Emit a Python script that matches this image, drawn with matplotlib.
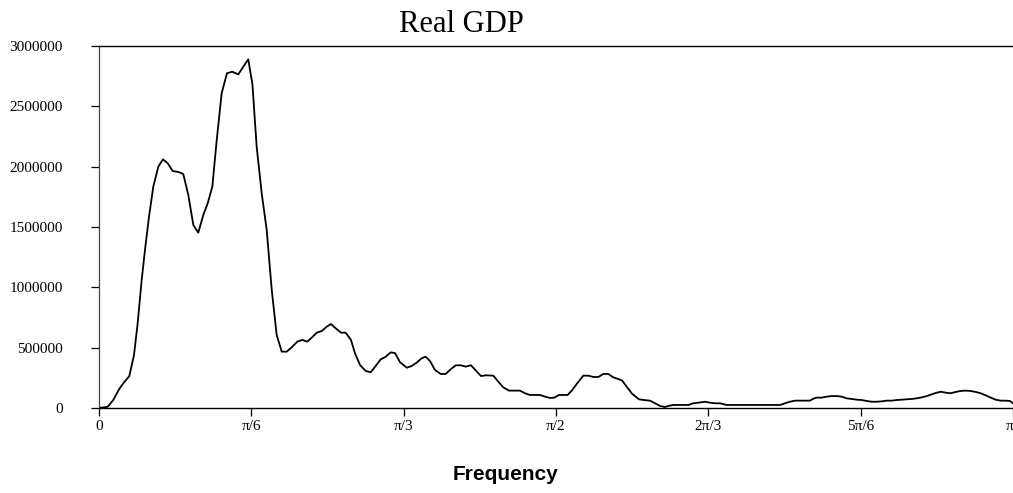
import numpy as np
import matplotlib
matplotlib.use("Agg")
import matplotlib.pyplot as plt

# frequency in units of pi, spectrum value
freq_pi = [0.0, 0.0095, 0.0156, 0.0219, 0.0266, 0.0332, 0.0383, 0.0423, 0.0467, 0.0503,
           0.0547, 0.0594, 0.0649, 0.0700, 0.0752, 0.0806, 0.0868, 0.0922, 0.0977, 0.1032,
           0.1086, 0.1141, 0.1189, 0.1240, 0.1288, 0.1342, 0.1400, 0.1458, 0.1524, 0.1579,
           0.1633, 0.1679, 0.1725, 0.1780, 0.1835, 0.1890, 0.1944, 0.1999, 0.2054, 0.2108,
           0.2170, 0.2224, 0.2279, 0.2327, 0.2382, 0.2437, 0.2491, 0.2538, 0.2590, 0.2648,
           0.2699, 0.2757, 0.2801, 0.2856, 0.2918, 0.2973, 0.3027, 0.3082, 0.3137, 0.3191,
           0.3239, 0.3293, 0.3367, 0.3421, 0.3476, 0.3531, 0.3574, 0.3621, 0.3676, 0.3739,
           0.3793, 0.3848, 0.3903, 0.3957, 0.4012, 0.4070, 0.4125, 0.4179, 0.4234, 0.4314,
           0.4369, 0.4423, 0.4486, 0.4544, 0.4606, 0.4661, 0.4716, 0.4770, 0.4825, 0.4880,
           0.4934, 0.4981, 0.5033, 0.5080, 0.5128, 0.5178, 0.5237, 0.5299, 0.5353, 0.5408,
           0.5463, 0.5518, 0.5572, 0.5627, 0.5682, 0.5725, 0.5773, 0.5835, 0.5908, 0.5966,
           0.6028, 0.6083, 0.6138, 0.6193, 0.6229, 0.6283, 0.6338, 0.6393, 0.6448, 0.6502,
           0.6557, 0.6630, 0.6685, 0.6740, 0.6794, 0.6868, 0.6958, 0.7068, 0.7177, 0.7287,
           0.7396, 0.7451, 0.7505, 0.7560, 0.7615, 0.7670, 0.7724, 0.7779, 0.7815, 0.7852,
           0.7907, 0.7962, 0.8016, 0.8071, 0.8126, 0.8180, 0.8235, 0.8290, 0.8345, 0.8399,
           0.8454, 0.8509, 0.8563, 0.8618, 0.8673, 0.8727, 0.8782, 0.8837, 0.8892, 0.8946,
           0.9001, 0.9056, 0.9110, 0.9165, 0.9212, 0.9264, 0.9318, 0.9373, 0.9428, 0.9482,
           0.9537, 0.9592, 0.9647, 0.9701, 0.9756, 0.9810, 0.9865, 0.9920, 0.9967, 1.0]

spec = [0, 10000, 66000, 155000, 205000, 265000, 439000, 702000, 1061000, 1309000,
        1585000, 1834000, 2000000, 2061000, 2028000, 1964000, 1956000, 1939000, 1765000, 1517000,
        1453000, 1599000, 1696000, 1834000, 2221000, 2608000, 2774000, 2787000, 2765000, 2829000,
        2890000, 2680000, 2165000, 1779000, 1475000, 978000, 605000, 467000, 467000, 503000,
        550000, 564000, 550000, 583000, 624000, 638000, 674000, 696000, 660000, 624000,
        624000, 564000, 453000, 356000, 307000, 296000, 348000, 403000, 425000, 461000,
        455000, 380000, 334000, 348000, 376000, 412000, 425000, 390000, 315000, 282000,
        282000, 321000, 354000, 354000, 343000, 354000, 309000, 265000, 271000, 268000,
        218000, 171000, 144000, 144000, 144000, 122000, 108000, 108000, 108000, 94000,
        83000, 86000, 108000, 108000, 108000, 149000, 210000, 268000, 268000, 257000,
        257000, 282000, 282000, 254000, 240000, 226000, 177000, 116000, 72000, 66000,
        61000, 39000, 17000, 8000, 17000, 25000, 25000, 25000, 25000, 39000,
        44000, 52000, 44000, 39000, 39000, 25000, 25000, 25000, 25000, 25000,
        25000, 25000, 39000, 52000, 61000, 61000, 61000, 61000, 77000, 86000,
        86000, 94000, 99000, 99000, 94000, 80000, 75000, 69000, 66000, 58000,
        52000, 52000, 55000, 61000, 61000, 66000, 69000, 72000, 75000, 80000,
        88000, 99000, 113000, 127000, 135000, 127000, 122000, 133000, 141000, 144000,
        141000, 133000, 122000, 105000, 86000, 69000, 61000, 61000, 58000, 39000]

xtick_labels = ['0', 'π/6', 'π/3', 'π/2', '2π/3', '5π/6', 'π']
ytick_vals = [0, 500000, 1000000, 1500000, 2000000, 2500000, 3000000]

w = np.array(freq_pi) * np.pi

fig = plt.figure(figsize=(10.13, 4.93), dpi=100)
ax = fig.add_axes([99/1013, 85/493, 1 - 99/1013, 362/493])

ax.plot(w, spec, color='black', lw=1.3)

ax.set_xlim(0, np.pi)
ax.set_ylim(0, 3000000)
ax.set_xticks(np.arange(7) * np.pi / 6)
ax.set_xticklabels(xtick_labels, family='Liberation Serif', fontsize=11)
# last label sits on the figure edge, keep it inside
ax.get_xticklabels()[-1].set_horizontalalignment('right')
ax.set_yticks(ytick_vals)
ax.set_yticklabels([str(v) for v in ytick_vals], family='Liberation Serif', fontsize=11)
ax.tick_params(axis='x', direction='out', length=6, width=0.9, pad=3)
ax.tick_params(axis='y', direction='out', length=6, width=0.9, pad=20)

ax.spines['right'].set_visible(False)
for s in ['top', 'bottom']:
    ax.spines[s].set_linewidth(1.0)
ax.spines['left'].set_linewidth(0.9)
ax.spines['left'].set_color('#444444')

fig.text(461/1013, 1 - 31.7/493, 'Real GDP', family='Liberation Serif', fontsize=22,
         ha='center', va='baseline')
fig.text(505/1013, 1 - 480/493, 'Frequency', family='Liberation Sans', fontsize=15,
         fontweight='bold', ha='center', va='baseline')

fig.savefig('out.png', dpi=100)
